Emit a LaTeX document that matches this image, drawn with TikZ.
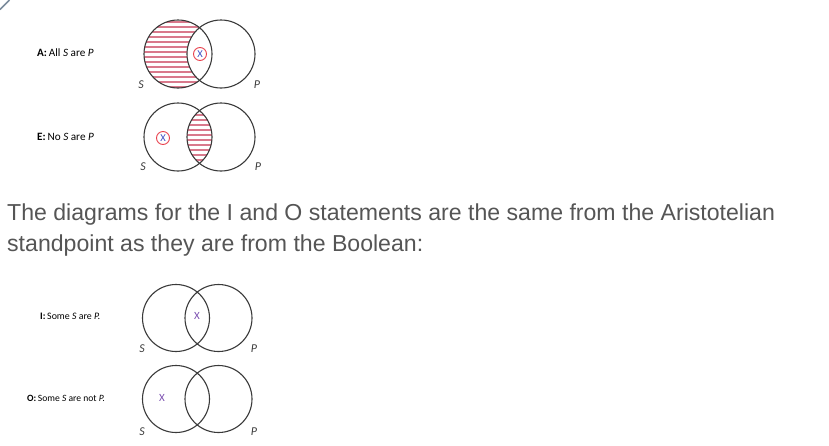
\documentclass[tikz,border=0pt]{standalone}
\usepackage{fontspec}
\setmainfont{Liberation Sans}
\newfontfamily\lblfont{Carlito}
\usetikzlibrary{calc}
\definecolor{ring}{HTML}{3A3A3A}
\definecolor{hatch}{HTML}{D9798C}
\definecolor{xred}{HTML}{E8434F}
\definecolor{xblue}{HTML}{3D4FC4}
\definecolor{xpurple}{HTML}{7B4FB0}
\definecolor{bodytext}{HTML}{555555}
\definecolor{corner}{HTML}{7B8C9C}
\tikzset{
  ringline/.style={draw=ring, line width=1.1pt},
  hatchline/.style={draw=hatch, line width=1.1pt},
  caption/.style={font=\lblfont\fontsize{#1}{12}\selectfont, text=black, anchor=west, inner sep=0pt},
  setlabel/.style={font=\lblfont\itshape\fontsize{12}{13}\selectfont, text=ring, inner sep=0pt},
  xmark/.style={font=\lblfont\fontsize{11}{12}\selectfont, inner sep=0pt},
  xring/.style={circle, draw=xred, line width=0.9pt, minimum size=13pt, inner sep=0pt, text=xblue, font=\lblfont\fontsize{10.5}{11}\selectfont},
  bodyline/.style={font=\fontsize{23.1}{27}\selectfont, text=bodytext, anchor=base west, inner sep=0pt}
}
\begin{document}
\begin{tikzpicture}[x=1pt,y=-1pt]
\useasboundingbox (0,0) rectangle (829,445);
\draw[corner, line width=1.6pt] (0,9.5) -- (9.5,0);

% ---------- A ----------
\coordinate (As) at (178,54);
\coordinate (Ap) at (221,54);
\begin{scope}
  \clip (As) circle (34pt);
  \foreach \k in {0,...,14} {\draw[hatchline] (140,{22+5*\k}) -- (216,{22+5*\k});}
  \fill[white] (Ap) circle (34pt);
\end{scope}
\draw[ringline] (As) circle (34pt);
\draw[ringline] (Ap) circle (34pt);
\node[caption=11.2] (Acap) at (37,53) {\textbf{A:}\,All \textit{S} are \textit{P}};
\node[xring] (Ax) at (200,54) {X};
\node[setlabel] (AS) at (141,85) {S};
\node[setlabel] (AP) at (257,85) {P};

% ---------- E ----------
\coordinate (Es) at (178,137);
\coordinate (Ep) at (221,137);
\begin{scope}
  \clip (Es) circle (34pt);
  \clip (Ep) circle (34pt);
  \foreach \k in {0,...,14} {\draw[hatchline] (140,{105+5*\k}) -- (216,{105+5*\k});}
\end{scope}
\draw[ringline] (Es) circle (34pt);
\draw[ringline] (Ep) circle (34pt);
\node[caption=11.2] (Ecap) at (37,137) {\textbf{E:}\,No \textit{S} are \textit{P}};
\node[xring] (Ex) at (163,138) {X};
\node[setlabel] (ES) at (143,167) {S};
\node[setlabel] (EP) at (258,167) {P};

% ---------- body text ----------
\node[bodyline] (line1) at (7,220) {The diagrams for the I and O statements are the same from the Aristotelian};
\node[bodyline] (line2) at (7,251) {standpoint as they are from the Boolean:};

% ---------- I ----------
\coordinate (Is) at (176,318);
\coordinate (Ip) at (218.5,318);
\draw[ringline] (Is) circle (33.5pt);
\draw[ringline] (Ip) circle (33.5pt);
\node[caption=9.9] (Icap) at (40,316) {\textbf{I:}\,Some \textit{S} are \textit{P.}};
\node[xmark, text=xpurple] (Ix) at (197,316) {X};
\node[setlabel] (IS) at (142,349) {S};
\node[setlabel] (IP) at (254,349) {P};

% ---------- O ----------
\coordinate (Os) at (176,399);
\coordinate (Op) at (218.5,399);
\draw[ringline] (Os) circle (33.5pt);
\draw[ringline] (Op) circle (33.5pt);
\node[caption=9.6] (Ocap) at (27,398) {\textbf{O:}\,Some \textit{S} are not \textit{P.}};
\node[xmark, text=xpurple] (Ox) at (162,398) {X};
\node[setlabel] (OS) at (142,432) {S};
\node[setlabel] (OP) at (254,432) {P};
\end{tikzpicture}
\end{document}
